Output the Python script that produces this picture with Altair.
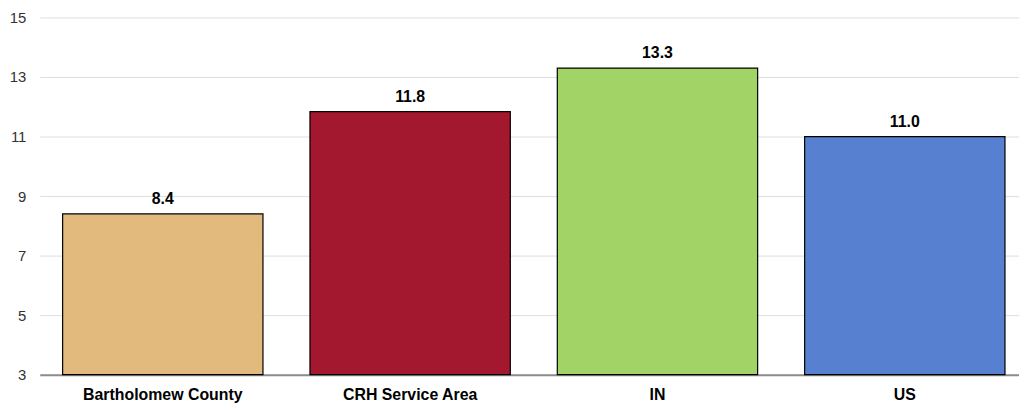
import altair as alt
import pandas as pd

categories = ["Bartholomew County", "CRH Service Area", "IN", "US"]
values = [8.4, 11.84, 13.3, 11.0]
labels = ["8.4", "11.8", "13.3", "11.0"]
colors = ["#E3BA7E", "#A3182F", "#A2D366", "#5781D0"]
y_ticks = [3, 5, 7, 9, 11, 13, 15]

FONT = "Liberation Sans"

df = pd.DataFrame({"cat": categories, "val": values, "lab": labels, "base": [3] * 4})

xscale = alt.Scale(domain=categories, paddingInner=0.19, paddingOuter=0.0746, align=0.62)
x = alt.X("cat:N", sort=categories, title=None, scale=xscale,
          axis=alt.Axis(labelAngle=0, labelFont=FONT, labelFontSize=16,
                        labelFontWeight="bold", labelColor="#000000", ticks=False,
                        domain=True, domainColor="#8c8c8c", domainWidth=2,
                        labelPadding=12, labelLimit=400, grid=False))
y = alt.Y("val:Q", title=None,
          scale=alt.Scale(domain=[3, 15], zero=False, nice=False),
          axis=alt.Axis(values=y_ticks, labelFont=FONT, labelFontSize=15,
                        labelColor="#333333", ticks=False, domain=False,
                        gridColor="#dedede", gridWidth=1, labelPadding=14))

bars = alt.Chart(df).mark_bar(stroke="#000000", strokeWidth=1.2).encode(
    x=x, y=y, y2="base:Q",
    color=alt.Color("cat:N", sort=categories,
                    scale=alt.Scale(domain=categories, range=colors), legend=None),
)
text = alt.Chart(df).mark_text(dy=-10, baseline="alphabetic", font=FONT, fontSize=16,
                               fontWeight="bold", color="#000000").encode(
    x=alt.X("cat:N", sort=categories, scale=xscale), y="val:Q", text="lab:N")

chart = (bars + text).properties(
    width=987, height=360,
    autosize=alt.AutoSizeParams(type="none"),
    padding={"left": 32, "top": 8, "right": 0, "bottom": 27},
).configure_view(stroke=None)

chart.save("out.html", embed_options={"renderer": "svg", "actions": False})
